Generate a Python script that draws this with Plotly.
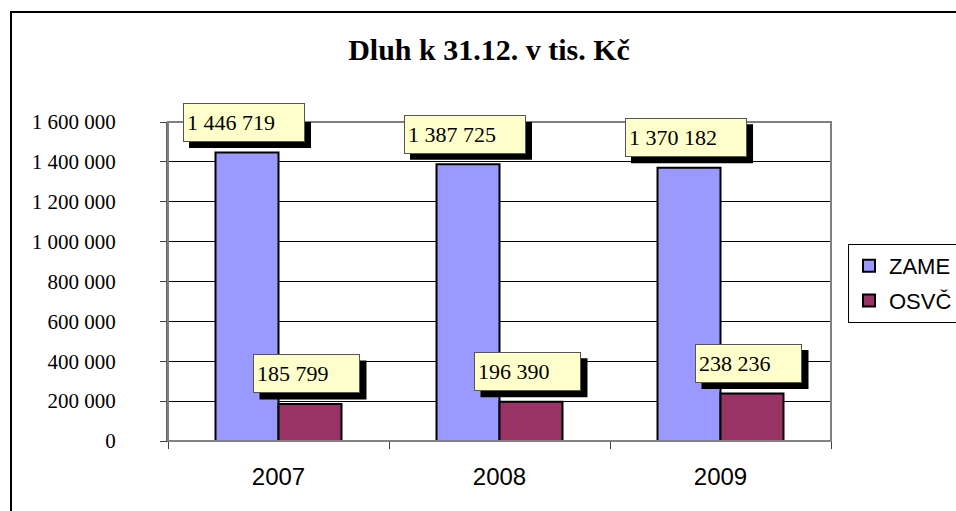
import plotly.graph_objects as go

categories = ["2007", "2008", "2009"]
zame = [1446719, 1387725, 1370182]
osvc = [185799, 196390, 238236]
series_names = ["ZAME", "OSVČ"]
y_tickvals = [0, 200000, 400000, 600000, 800000, 1000000, 1200000, 1400000, 1600000]

def fmt(v):
    return f"{v:,}".replace(",", " ")

y_ticktext = [fmt(v) for v in y_tickvals]

BARGAP = 0.43
colors = ["#9999FF", "#993366"]
SERIF = "Liberation Serif, Times New Roman, serif"
SANS = "Liberation Sans, Arial, sans-serif"

fig = go.Figure()
for i, (name, vals) in enumerate(zip(series_names, [zame, osvc])):
    fig.add_trace(go.Bar(
        x=categories, y=vals, name=name,
        marker=dict(color=colors[i], line=dict(color="black", width=2)),
        legendgroup=name,
    ))

annotations = []
shadow_shapes = []
bar_w = (1 - BARGAP) / 2
label_w = [114, 99]
for s, vals in enumerate([zame, osvc]):
    off = -bar_w / 2 if s == 0 else bar_w / 2
    half = label_w[s] / 2 + 4
    for i, v in enumerate(vals):
        # drop shadow behind the label box (pixel-sized, anchored at the bar top)
        shadow_shapes.append(dict(
            type="rect", xref="x", yref="y", xsizemode="pixel", ysizemode="pixel",
            xanchor=i + off, yanchor=v,
            x0=-3 - half + 6, x1=-3 + half + 6, y0=30 - 19.5 - 6, y1=30 + 19.5 - 6,
            fillcolor="black", line=dict(width=0), layer="above",
        ))
        annotations.append(dict(
            x=i + off, y=v, xref="x", yref="y", text=fmt(v), showarrow=False,
            xshift=-3, yshift=30, yanchor="middle", xanchor="center",
            width=label_w[s], height=31, align="left", valign="middle",
            font=dict(family=SERIF, size=22, color="black"),
            bgcolor="#FFFFCC", bordercolor="#555555", borderwidth=1, borderpad=3,
        ))

fig.update_layout(
    width=956, height=511,
    margin=dict(l=168, r=125, t=122, b=70, autoexpand=False),
    paper_bgcolor="white", plot_bgcolor="white",
    barmode="group", bargap=BARGAP, bargroupgap=0,
    title=dict(text="<b>Dluh k 31.12. v tis. Kč</b>", x=489 / 956, xref="container",
               y=1 - 49 / 511, yref="container", xanchor="center", yanchor="middle",
               font=dict(family=SERIF, size=30, color="black")),
    xaxis=dict(type="category", showgrid=False, showline=True, linecolor="#404040", linewidth=1,
               ticks="outside", tickson="boundaries", ticklen=7, tickcolor="#404040",
               tickfont=dict(family=SANS, size=24, color="black"), ticklabelstandoff=14,
               range=[-0.5, 2.5], automargin=False),
    yaxis=dict(range=[0, 1600000], tickvals=y_tickvals, ticktext=y_ticktext,
               showgrid=True, gridcolor="black", gridwidth=1, zeroline=False,
               showline=True, linecolor="#606060", linewidth=2,
               ticks="outside", ticklen=6, tickcolor="#404040",
               tickfont=dict(family=SERIF, size=21, color="black"), ticklabelstandoff=40,
               automargin=False),
    legend=dict(x=(848 - 168) / 663, y=1 - (244 - 122) / 319, xanchor="left", yanchor="top",
                bordercolor="black", borderwidth=1, bgcolor="white",
                font=dict(family=SANS, size=22, color="black"),
                traceorder="grouped", tracegroupgap=3),
    annotations=annotations,
    shapes=[
        dict(type="rect", xref="paper", yref="paper", x0=0, x1=1, y0=0, y1=1,
             line=dict(color="#808080", width=2), layer="above"),
        dict(type="rect", xref="paper", yref="paper", x0=(11 - 168) / 663, x1=1.4,
             y0=-0.5, y1=1 + (122 - 12) / 319, line=dict(color="black", width=2), layer="below"),
    ] + shadow_shapes,
    showlegend=True,
)

fig.write_html("out.html", config={"displayModeBar": False},
               post_script="document.body.style.margin='0';document.body.style.padding='0';")
